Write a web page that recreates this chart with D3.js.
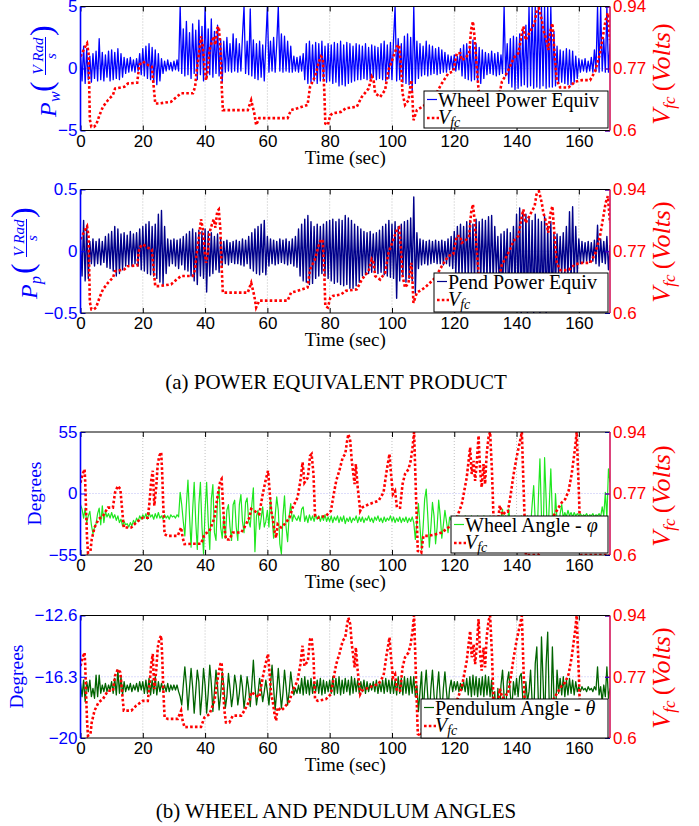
<!DOCTYPE html>
<html>
<head>
<meta charset="utf-8">
<script src="https://cdn.jsdelivr.net/npm/d3@7"></script>
<style>
  body { margin: 0; background: #fff; }
  svg { display: block; }
</style>
</head>
<body>
<script>
// ---- data (signals sampled every 0.5 s, 0..170 s) ----
const sampleStep = 0.5;

const wheelPower = [
  1.2,-1.0,1.8,-1.2,1.6,-0.9,1.0,-1.1,1.2,-0.8,1.4,-1.0,2.4,-0.9,1.3,-1.0,1.1,-0.7,1.4,-1.0,
  1.5,-0.9,1.3,-0.8,1.6,-0.9,1.2,-0.7,0.9,-0.4,0.8,-0.3,0.9,-0.2,0.7,-0.3,0.8,-0.2,1.2,-0.5,
  1.6,-0.6,1.8,-0.8,2.0,-0.9,1.7,-1.1,1.5,-1.3,1.2,-1.0,0.8,-0.4,0.6,-0.2,0.7,-0.1,0.5,-0.2,
  0.6,-0.1,0.7,-0.2,5,-0.4,3.2,-0.6,3.8,-0.5,2.9,-0.8,3.6,-0.4,3.1,-0.9,3.9,-0.5,3.4,-1.0,
  5,-0.8,3.2,-0.5,4.0,-0.7,3.0,-0.4,3.5,-0.6,2.4,-1.1,2.2,-0.3,2.5,-0.2,2.0,-0.3,2.8,-0.2,
  2.4,-0.3,2.0,-0.2,2.6,5,-0.4,2.2,-0.5,4.8,-0.6,2.3,-0.8,2.0,-0.9,2.2,-0.7,1.9,-1.0,2.1,
  5,-0.3,2.2,-0.2,2.5,-0.3,2.0,5,-0.2,2.8,-0.3,2.6,-0.2,2.2,-0.3,1.8,-0.3,1.0,-0.2,0.9,
  -0.3,1.0,-0.2,1.2,-0.9,2.0,-1.2,2.2,-1.1,1.9,-1.0,2.1,-1.2,2.0,-1.0,2.2,-0.9,1.8,-1.1,2.0,
  -1.0,1.9,-1.2,2.1,-1.1,2.0,-1.4,2.2,-1.3,1.9,-1.4,2.1,-1.2,2.0,-1.1,1.8,-1.0,2.0,-0.9,1.9,
  -0.9,1.8,-0.8,2.0,-0.9,1.7,-0.8,1.9,-0.7,1.8,-0.9,1.7,-0.8,2.0,-0.9,2.2,-1.0,1.9,-0.8,2.1,
  -0.9,2.3,5,-1.0,2.4,-0.9,2.0,-1.1,2.6,-1.2,2.8,-1.3,2.5,-1.9,5,-1.2,2.2,-0.8,2.0,-0.6,
  1.8,-0.5,2.2,-0.6,1.9,-0.5,1.8,-0.4,1.6,-0.5,1.7,-0.4,1.5,-0.3,1.3,-0.3,1.1,-0.1,1.0,-0.1,
  1.1,-0.2,1.0,-0.1,1.6,-0.6,1.9,-0.8,2.0,-0.9,1.8,-1.0,2.3,-0.9,2.0,-1.1,1.7,-1.2,1.5,-0.8,
  1.3,-0.5,1.2,-0.4,1.4,-0.5,1.2,-0.6,1.3,-0.5,1.1,-0.4,5,-0.6,2.0,-1.2,2.4,-1.5,2.6,-1.7,
  2.5,-1.6,2.8,-1.4,3.0,-1.3,3.5,-1.5,5,-1.4,5,-1.6,5,-1.5,5,-1.6,5,-1.4,5,-1.6,
  5,-1.5,5,-1.5,3.0,-1.4,1.8,-1.2,1.5,-1.1,1.4,-1.2,1.6,-1.3,1.5,-1.3,1.4,-1.1,1.0,-0.8,
  0.8,-0.3,0.7,-0.2,0.8,-0.3,0.6,-0.2,0.9,-0.3,1.5,-0.2,5,-0.3,5,-0.2,2.4,-0.3,5,-0.3,
  2.0
];

const pendPower = [
  0.1,-0.2,0.25,-0.24,0.2,-0.22,0.08,-0.1,0.1,-0.12,0.08,-0.1,0.1,-0.11,0.08,-0.09,0.12,-0.13,0.14,-0.14,
  0.16,-0.16,0.2,-0.2,0.18,-0.18,0.14,-0.15,0.15,-0.12,0.13,-0.11,0.16,-0.12,0.14,-0.1,0.15,-0.12,0.18,-0.15,
  0.2,-0.16,0.22,-0.18,0.24,-0.19,0.2,-0.2,0.22,-0.22,0.3,-0.25,0.33,-0.27,0.2,-0.18,0.1,-0.12,0.09,-0.1,
  0.1,-0.12,0.09,-0.14,0.1,-0.11,0.12,-0.15,0.14,-0.16,0.16,-0.2,0.18,-0.24,0.15,-0.27,0.17,-0.2,0.16,-0.22,
  0.18,-0.33,0.16,-0.2,0.15,-0.18,0.12,-0.15,0.14,-0.17,0.1,-0.12,0.08,-0.1,0.09,-0.11,0.07,-0.09,0.08,-0.1,
  0.09,-0.1,0.08,-0.11,0.1,-0.12,0.09,-0.1,0.12,-0.14,0.15,-0.16,0.18,-0.18,0.2,-0.19,0.22,-0.17,0.25,-0.19,
  0.12,-0.12,0.1,-0.1,0.09,-0.11,0.08,-0.1,0.1,-0.09,0.09,-0.1,0.1,-0.11,0.08,-0.1,0.1,-0.12,0.12,-0.13,
  0.18,-0.2,0.22,-0.24,0.26,-0.25,0.29,-0.27,0.24,-0.26,0.2,-0.22,0.22,-0.2,0.2,-0.18,0.22,-0.2,0.24,-0.22,
  0.25,-0.24,0.26,-0.26,0.24,-0.25,0.26,-0.27,0.25,-0.28,0.29,-0.27,0.27,-0.3,0.25,-0.3,0.22,-0.28,0.2,-0.25,
  0.18,-0.2,0.16,-0.19,0.15,-0.18,0.16,-0.17,0.14,-0.16,0.15,-0.18,0.17,-0.17,0.2,-0.19,0.22,-0.2,0.25,-0.21,
  0.22,-0.22,0.24,-0.38,0.2,-0.24,0.22,-0.2,0.24,-0.25,0.25,-0.22,0.27,-0.24,0.44,-0.34,0.15,-0.14,0.1,-0.11,
  0.09,-0.1,0.08,-0.11,0.09,-0.1,0.08,-0.09,0.09,-0.1,0.08,-0.1,0.09,-0.11,0.08,-0.1,0.1,-0.12,0.12,-0.14,
  0.16,-0.18,0.2,-0.2,0.22,-0.19,0.2,-0.2,0.24,-0.22,0.25,-0.2,0.22,-0.24,0.26,-0.22,0.24,-0.23,0.26,-0.24,
  0.25,-0.22,0.28,-0.23,0.29,-0.25,0.2,-0.18,0.12,-0.35,0.14,-0.4,0.16,-0.2,0.18,-0.45,0.15,-0.22,0.2,-0.3,
  0.3,-0.35,0.35,-0.5,0.32,-0.45,0.3,-0.5,0.28,-0.42,0.25,-0.5,0.3,-0.48,0.26,-0.5,0.24,-0.44,0.28,-0.5,
  0.2,-0.4,0.24,-0.45,0.15,-0.3,0.14,-0.2,0.12,-0.18,0.15,-0.2,0.2,-0.22,0.32,-0.26,0.36,-0.25,0.2,-0.18,
  0.1,-0.1,0.08,-0.09,0.07,-0.08,0.08,-0.09,0.07,-0.08,0.09,-0.1,0.21,-0.12,0.1,-0.09,0.08,-0.1,0.12,-0.15,
  0.05
];

const wheelAngle = [
  -10,-14,-22,-13,-26,-20,-16,-28,-36,-30,-27,-18,-13,-28,-11,-26,-16,-21,-18,-22,
  -17,-22,-19,-24,-20,-26,-23,-29,-25,-28,-27,-30,-26,-29,-24,-27,-22,-25,-20,-23,
  -19,-22,-18,-23,-17,-21,-19,-23,-18,-22,-17,-22,-20,-23,-19,-22,-20,-23,-19,-21,
  -20,-22,-19,-21,1,-10,-25,-38,-10,12,-20,-48,-15,10,-25,-50,-10,10,-30,-54,
  -15,10,-25,-50,-5,8,-35,-42,-5,5,-30,-40,-20,-40,-15,-10,-30,-42,-10,-6,
  -30,-42,-10,-1,-25,-35,-8,-4,-25,-30,-10,5,-52,-20,-15,-32,-22,-12,-30,-25,
  -15,-30,-4,-20,-40,-20,-3,-15,-45,-54,-20,-2,-30,-43,-20,-9,-25,-19,-22,-24,
  -20,-25,-14,-12,-25,-20,-26,-19,-24,-20,-25,-19,-23,-20,-25,-20,-24,-19,-25,-21,
  -25,-20,-26,-21,-24,-20,-26,-21,-25,-20,-27,-22,-25,-21,-26,-22,-24,-20,-26,-21,
  -25,-21,-26,-22,-24,-20,-25,-22,-26,-21,-24,-20,-25,-22,-26,-21,-25,-22,-24,-20,
  -25,-21,-26,-22,-25,-21,-26,-22,-25,-21,-26,-22,-25,-21,-26,-41,-25,-9,-30,-50,
  -30,-5,4,-20,-48,-30,-8,-20,-45,-30,-6,-20,-40,-28,-15,-25,-35,-21,-24,-21,
  -23,-21,-22,-20,-23,-21,-24,-20,-23,-21,-24,-20,-23,-21,-24,-20,-23,-21,-24,-20,
  -23,-21,-30,-20,-35,-22,-28,-40,-25,-30,-21,-14,-35,-20,-30,-14,-28,-22,-25,-20,
  -24,-21,-25,-20,-28,-22,-35,-20,-40,-30,-10,7,-25,-50,-5,31,-20,-50,32,-5,
  -45,-10,22,-20,-45,0,-25,-35,-18,-10,-22,-17,-21,-15,-20,-17,-21,-17,-20,-18,
  -20,-18,-21,-19,-20,-18,-21,-19,-20,-18,-21,-19,-20,-18,-21,-12,-20,1,-22,22,
  10
];

const pendAngle = [
  -16.7,-17.5,-16.5,-17.8,-16.6,-17.2,-16.5,-17.5,-17.0,-17.6,-16.2,-17.5,-16.2,-17.3,-16.8,-17.2,-16.7,-17.2,-16.8,-17.1,
  -16.6,-17.3,-16.4,-17.4,-15.9,-17.3,-16.3,-17.4,-16.6,-17.2,-16.8,-17.1,-16.7,-17.2,-16.8,-17.1,-16.7,-17.2,-16.6,-17.1,
  -16.6,-17.3,-16.5,-17.3,-16.4,-17.4,-16.5,-17.3,-16.3,-17.4,-16.6,-17.2,-16.7,-17.1,-16.8,-17.2,-16.7,-17.2,-16.8,-17.1,
  -16.8,-17.1,-16.8,-17.2,-17.5,-18.0,-16.8,-15.7,-16.8,-18.3,-17.0,-15.8,-16.9,-18.5,-17.2,-15.9,-16.6,-18.6,-17.4,-15.8,
  -16.8,-18.5,-17.3,-15.6,-16.7,-18.4,-17.2,-15.9,-16.9,-18.3,-17.4,-16.0,-16.8,-18.2,-17.5,-16.1,-17.0,-18.1,-17.4,-16.2,
  -16.8,-18.0,-17.3,-16.2,-16.9,-18.2,-17.4,-16.3,-17.0,-18.1,-16.8,-15.3,-16.9,-18.0,-17.3,-16.4,-17.0,-17.8,-17.2,-16.5,
  -17.2,-18.0,-16.8,-15.6,-17.0,-18.3,-17.2,-15.8,-17.0,-18.2,-17.3,-15.9,-16.9,-18.0,-17.2,-16.0,-16.8,-17.4,-17.0,-17.3,
  -16.8,-17.3,-16.4,-17.4,-16.3,-17.3,-16.5,-17.4,-16.4,-17.3,-16.6,-17.2,-16.5,-17.3,-16.4,-17.4,-16.5,-17.3,-16.6,-17.2,
  -16.5,-17.3,-16.3,-17.4,-16.4,-17.3,-16.3,-17.4,-16.5,-17.3,-16.4,-17.2,-16.5,-17.4,-16.3,-17.3,-16.4,-17.2,-16.5,-17.3,
  -16.6,-17.2,-16.5,-17.3,-16.6,-17.2,-16.7,-17.1,-16.6,-17.2,-16.5,-17.3,-16.6,-17.2,-16.5,-17.3,-16.4,-17.2,-16.5,-17.3,
  -16.4,-17.3,-16.5,-17.4,-16.3,-17.3,-16.4,-17.4,-16.3,-17.3,-16.4,-17.4,-16.3,-17.3,-16.3,-17.5,-16.8,-18.4,-17.2,-16.0,
  -18.6,-17.0,-15.9,-17.5,-18.8,-17.0,-15.9,-17.4,-18.7,-17.1,-16.0,-17.6,-18.6,-17.0,-16.0,-17.2,-18.2,-17.0,-16.5,-17.2,
  -16.6,-17.1,-16.6,-17.2,-16.7,-17.1,-16.6,-17.2,-16.4,-17.4,-16.3,-17.5,-16.2,-17.4,-16.3,-17.5,-16.4,-17.4,-16.3,-17.5,
  -16.2,-17.4,-16.3,-17.5,-16.5,-18.5,-17.2,-19.5,-17.0,-18.8,-16.8,-15.9,-17.5,-18.6,-16.6,-16.0,-17.4,-18.2,-16.6,-17.4,
  -16.4,-17.5,-16.3,-16.1,-17.6,-18.0,-16.6,-17.8,-17.2,-15.9,-17.8,-19.0,-15.5,-14.5,-17.8,-19.2,-13.9,-16.5,-19.3,-15.5,
  -13.6,-18.0,-19.0,-14.5,-17.5,-18.8,-15.9,-17.3,-16.4,-17.4,-16.3,-17.5,-16.5,-17.4,-16.4,-17.3,-16.5,-17.4,-16.6,-17.2,
  -16.9,-17.2,-16.9,-17.1,-17.0,-17.2,-16.9,-17.1,-17.0,-17.2,-16.9,-17.1,-15.7,-17.4,-16.9,-17.8,-16.8,-17.5,-15.7,-17.6,
  -17.0
];

// fuel-cell voltage, experiment (a)
const vfcTimeA = [0,1.8,2.1,2.6,3.0,3.5,4.3,5.0,6.1,7.2,8.8,9.8,10.4,11.1,14.1,15.2,18.2,18.9,20,21.6,22.9,23.5,24,25.3,29.1,30.7,32.3,36.1,36.8,37.2,38.2,38.7,39.3,39.8,40.3,40.9,41.4,42.2,42.8,43.3,43.9,44.4,44.9,45.3,45.7,53.7,54.8,55.3,55.8,56.4,57.4,66.5,67.6,69.7,72.9,73.7,75.3,76.4,77.2,77.8,78.3,78.6,79.4,80.2,81,83.6,85.2,88.7,90.3,92.5,93.5,94.1,94.6,96.2,97.8,98.9,99.9,101.6,102.3,102.9,103.4,104.2,105.3,106.2,106.6,106.9,108,110.6,113.9,116,118.1,119.7,120.8,121.9,122.4,123.5,124.8,125.4,126,126.5,127.2,127.8,128.3,129,131,133,134.5,135.3,136.3,137.9,139,140.6,141.7,142.2,142.9,143.8,144.9,145.8,146.5,147.2,148.1,148.6,149.4,150.2,150.8,151.5,152.4,152.9,154,156.7,158.8,161,163.6,165.2,166.8,167.9,168.6,169.3,170];
const vfcA = [0.803,0.835,0.839,0.81,0.63,0.61,0.61,0.615,0.642,0.665,0.683,0.692,0.697,0.715,0.72,0.729,0.731,0.78,0.789,0.78,0.775,0.72,0.674,0.674,0.679,0.691,0.702,0.702,0.72,0.757,0.821,0.858,0.83,0.775,0.738,0.766,0.821,0.844,0.858,0.835,0.88,0.885,0.83,0.729,0.656,0.656,0.683,0.665,0.647,0.615,0.634,0.634,0.656,0.661,0.67,0.72,0.748,0.784,0.803,0.798,0.702,0.619,0.615,0.642,0.647,0.651,0.661,0.665,0.692,0.715,0.748,0.738,0.702,0.692,0.711,0.766,0.789,0.83,0.835,0.775,0.702,0.67,0.683,0.738,0.683,0.628,0.656,0.67,0.697,0.729,0.757,0.762,0.812,0.812,0.793,0.798,0.812,0.876,0.899,0.858,0.775,0.711,0.674,0.64,0.63,0.66,0.7,0.734,0.748,0.775,0.798,0.812,0.867,0.885,0.848,0.862,0.88,0.894,0.931,0.935,0.903,0.876,0.853,0.821,0.871,0.894,0.789,0.738,0.718,0.718,0.734,0.738,0.738,0.762,0.812,0.867,0.903,0.922,0.848];

// fuel-cell voltage, experiment (b)
const vfcTimeB = [0,0.7,1.3,1.5,1.8,2.1,2.4,3.2,3.6,4.5,5.8,7.2,8.8,10.4,11.1,12,12.8,13.4,13.9,16.3,17.9,20,21.6,22.1,22.7,23.2,23.7,24.3,24.8,25.3,25.9,26.2,26.6,27,28,31.2,32.3,32.8,33.4,35.5,38.7,39.8,41.4,43,44.1,44.9,45.3,45.7,46.2,46.7,47.8,48.9,51.6,52.6,54.2,54.8,55.8,57.4,58.5,59.4,60.2,60.4,61.2,61.7,62.3,62.8,63.3,64.4,65.5,67.1,68.1,69.7,70.6,71.3,71.9,73,73.7,74.2,74.8,75.3,76.2,78.8,80.4,81.3,82.1,83.1,84.2,85,85.5,86,86.6,87.1,88,88.4,89,89.8,90.3,92.5,95.7,97.3,98.3,99.2,99.7,100.3,101,101.6,102.6,103.4,104.2,105.3,106,106.6,107.1,107.7,108.3,109.4,110.1,111.7,113.9,116,118.1,119.7,120.8,122.4,124,124.6,125.1,125.6,126.2,126.7,127.2,127.8,128.3,128.8,129.4,129.9,130.4,131,131.5,132.1,132.6,133.2,134,134.6,135.5,136.5,137.2,138,139,140,141,141.7,142.2,143,147,148.5,150,152,154.5,155.6,156.7,157.7,158.8,159.3,160.1,160.6,170];
const vfcB = [0.8,0.824,0.837,0.805,0.722,0.648,0.606,0.611,0.643,0.676,0.699,0.708,0.731,0.731,0.773,0.791,0.782,0.722,0.676,0.676,0.69,0.703,0.703,0.74,0.805,0.833,0.736,0.787,0.851,0.874,0.884,0.833,0.731,0.657,0.653,0.653,0.676,0.648,0.63,0.631,0.631,0.657,0.666,0.703,0.768,0.805,0.81,0.75,0.676,0.643,0.643,0.662,0.662,0.676,0.703,0.727,0.722,0.713,0.768,0.805,0.833,0.814,0.722,0.703,0.666,0.648,0.685,0.676,0.685,0.703,0.731,0.759,0.805,0.856,0.8,0.814,0.874,0.879,0.824,0.708,0.703,0.708,0.722,0.768,0.805,0.833,0.87,0.879,0.91,0.934,0.916,0.86,0.796,0.851,0.787,0.722,0.731,0.74,0.75,0.773,0.833,0.879,0.824,0.768,0.777,0.731,0.731,0.796,0.824,0.837,0.86,0.897,0.94,0.768,0.611,0.606,0.653,0.653,0.657,0.662,0.676,0.685,0.703,0.74,0.814,0.86,0.897,0.824,0.86,0.805,0.851,0.93,0.833,0.787,0.851,0.796,0.879,0.925,0.94,0.833,0.703,0.66,0.69,0.737,0.71,0.72,0.72,0.76,0.82,0.87,0.91,0.94,0.8,0.6,0.6,0.62,0.66,0.71,0.745,0.754,0.777,0.824,0.897,0.94,0.75,0.6,0.6];

// ticks
const timeTicks = [0, 20, 40, 60, 80, 100, 120, 140, 160];
const vfcTicks = [0.6, 0.77, 0.94];
const vfcTickLabels = ['0.6', '0.77', '0.94'];
const ticksP1 = [-5, 0, 5];
const labelsP1 = ['\u22125', '0', '5'];
const ticksP2 = [-0.5, 0, 0.5];
const labelsP2 = ['\u22120.5', '0', '0.5'];
const ticksP3 = [-55, 0, 55];
const labelsP3 = ['\u221255', '0', '55'];
const ticksP4 = [-20, -16.3, -12.6];
const labelsP4 = ['\u221220', '\u221216.3', '\u221212.6'];

// ---- layout ----
const W = 699, H = 826;
const xLeft = 80.5, xRight = 610;
const sans = 'Liberation Sans, Arial, sans-serif';
const serif = 'Liberation Serif, Times New Roman, serif';
const blue = '#0000ff';
const red = '#ff0000';

const svg = d3.select('body').append('svg')
    .attr('width', W)
    .attr('height', H);

svg.append('rect').attr('width', W).attr('height', H).attr('fill', '#fff');

const x = d3.scaleLinear().domain([0, 170]).range([xLeft, xRight]);

const panels = [
  { top: 6.5, bottom: 130.5, domain: [-5, 5], ticks: ticksP1, labels: labelsP1,
    series: wheelPower, color: '#0000ff', lw: 1.3, vt: vfcTimeA, vv: vfcA,
    legend: [424, 91, 184, 37], name: 'Wheel Power Equiv', sym: null,
    title: { kind: 'power', sub: 'w', x: 56, y: 68 }, vTitleY: 74 },
  { top: 189.5, bottom: 313, domain: [-0.5, 0.5], ticks: ticksP2, labels: labelsP2,
    series: pendPower, color: '#00008b', lw: 1.4, vt: vfcTimeA, vv: vfcA,
    legend: [434, 273, 174, 39], name: 'Pend Power Equiv', sym: null,
    title: { kind: 'power', sub: 'p', x: 37, y: 250 }, vTitleY: 252 },
  { top: 432, bottom: 555, domain: [-55, 55], ticks: ticksP3, labels: labelsP3,
    series: wheelAngle, color: '#1ee61e', lw: 1.2, vt: vfcTimeB, vv: vfcB,
    legend: [451, 516, 157, 37], name: 'Wheel Angle - ', sym: '\u03c6',
    title: { kind: 'deg', x: 41, y: 493.5 }, vTitleY: 496 },
  { top: 615.5, bottom: 738, domain: [-20, -12.6], ticks: ticksP4, labels: labelsP4,
    series: pendAngle, color: '#006400', lw: 1.3, vt: vfcTimeB, vv: vfcB,
    legend: [421, 699, 187, 39], name: 'Pendulum Angle - ', sym: '\u03b8',
    title: { kind: 'deg', x: 23, y: 676.5 }, vTitleY: 678 }
];

const drawPanel = (p, idx) => {
  const y = d3.scaleLinear().domain(p.domain).range([p.bottom, p.top]);
  const v = d3.scaleLinear().domain([0.6, 0.94]).range([p.bottom, p.top]);
  const g = svg.append('g');

  const clipId = 'clip' + idx;
  svg.append('clipPath').attr('id', clipId)
    .append('rect')
      .attr('x', xLeft).attr('y', p.top)
      .attr('width', xRight - xLeft).attr('height', p.bottom - p.top);

  // grid
  g.append('g').selectAll('line')
    .data(timeTicks.slice(1))
    .join('line')
      .attr('x1', d => x(d)).attr('x2', d => x(d))
      .attr('y1', p.top).attr('y2', p.bottom)
      .attr('stroke', '#b0b0b0').attr('stroke-width', 0.8)
      .attr('stroke-dasharray', '1,2');
  g.append('line')
    .attr('x1', xLeft).attr('x2', xRight)
    .attr('y1', y(p.ticks[1])).attr('y2', y(p.ticks[1]))
    .attr('stroke', '#a9a9f5').attr('stroke-width', 0.8)
    .attr('stroke-dasharray', '1,2');

  // signal
  const line = d3.line()
    .x((d, i) => x(i * sampleStep))
    .y(d => y(d));
  g.append('path')
    .datum(p.series)
    .attr('clip-path', `url(#${clipId})`)
    .attr('d', line)
    .attr('fill', 'none')
    .attr('stroke', p.color)
    .attr('stroke-width', p.lw)
    .attr('stroke-linejoin', 'round');

  // fuel cell voltage (right axis)
  const vLine = d3.line()
    .x(d => x(d[0]))
    .y(d => v(d[1]));
  g.append('path')
    .datum(d3.zip(p.vt, p.vv))
    .attr('clip-path', `url(#${clipId})`)
    .attr('d', vLine)
    .attr('fill', 'none')
    .attr('stroke', red)
    .attr('stroke-width', 2.6)
    .attr('stroke-dasharray', '2.6,2.2');

  // axes
  g.append('g')
    .attr('transform', `translate(0,${p.bottom})`)
    .attr('color', '#000')
    .call(d3.axisBottom(x).tickValues(timeTicks).tickSizeInner(-5).tickSizeOuter(0).tickPadding(4))
    .call(a => a.select('.domain').remove())
    .call(a => a.selectAll('text').attr('font-family', sans).attr('font-size', 17));

  g.append('g')
    .attr('transform', `translate(0,${p.top})`)
    .attr('color', '#000')
    .call(d3.axisTop(x).tickValues(timeTicks).tickSizeInner(-5).tickSizeOuter(0).tickFormat(''))
    .call(a => a.select('.domain').remove());

  g.append('g')
    .attr('transform', `translate(${xRight},0)`)
    .attr('color', red)
    .call(d3.axisRight(v).tickValues(vfcTicks).tickSizeInner(-5).tickSizeOuter(0).tickPadding(3)
      .tickFormat((d, i) => vfcTickLabels[i]))
    .call(a => a.select('.domain').remove())
    .call(a => a.selectAll('text').attr('font-family', sans).attr('font-size', 17));

  g.append('g')
    .attr('transform', `translate(${xLeft},0)`)
    .attr('color', blue)
    .call(d3.axisLeft(y).tickValues(p.ticks).tickSizeInner(-5).tickSizeOuter(0).tickPadding(3)
      .tickFormat((d, i) => p.labels[i]))
    .call(a => a.select('.domain').remove())
    .call(a => a.selectAll('text').attr('font-family', sans).attr('font-size', 17));

  g.append('g')
    .attr('transform', `translate(${xRight},0)`)
    .attr('color', blue)
    .call(d3.axisRight(y).tickValues(p.ticks).tickSizeInner(-5).tickSizeOuter(0).tickFormat(''))
    .call(a => a.select('.domain').remove());

  // spines
  const spine = (x1, y1, x2, y2, c, w) => g.append('line')
    .attr('x1', x1).attr('y1', y1).attr('x2', x2).attr('y2', y2)
    .attr('stroke', c).attr('stroke-width', w);
  spine(xLeft, p.top, xRight, p.top, '#000', 1);
  spine(xLeft, p.bottom, xRight, p.bottom, '#000', 1.2);
  spine(xLeft, p.top, xLeft, p.bottom, blue, 1.6);
  spine(xRight, p.top, xRight, p.bottom, '#d4145a', 1.6);

  // x label
  svg.append('text')
    .attr('x', (xLeft + xRight) / 2)
    .attr('y', p.bottom + 33)
    .attr('text-anchor', 'middle')
    .attr('font-family', serif)
    .attr('font-size', 19)
    .text('Time (sec)');

  // left title
  if (p.title.kind === 'power') {
    const t = svg.append('g')
      .attr('transform', `translate(${p.title.x},${p.title.y}) rotate(-90)`)
      .attr('fill', blue)
      .attr('font-family', serif);
    t.append('text').attr('x', -49).attr('y', 0)
      .attr('font-size', 24).attr('font-style', 'italic').text('P');
    t.append('text').attr('x', -34).attr('y', 4)
      .attr('font-size', 16).attr('font-style', 'italic').text(p.title.sub);
    t.append('text').attr('x', -24).attr('y', -4)
      .attr('font-size', 32).text('(');
    t.append('text').attr('x', 12).attr('y', -13).attr('text-anchor', 'middle')
      .attr('font-size', 15).attr('font-style', 'italic').text('V Rad');
    t.append('line').attr('x1', -7).attr('x2', 31).attr('y1', -10.5).attr('y2', -10.5)
      .attr('stroke', blue).attr('stroke-width', 1);
    t.append('text').attr('x', 12).attr('y', 0).attr('text-anchor', 'middle')
      .attr('font-size', 15).attr('font-style', 'italic').text('s');
    t.append('text').attr('x', 32).attr('y', -4)
      .attr('font-size', 32).text(')');
  } else {
    svg.append('text')
      .attr('transform', `translate(${p.title.x},${p.title.y}) rotate(-90)`)
      .attr('text-anchor', 'middle')
      .attr('fill', blue)
      .attr('font-family', serif)
      .attr('font-size', 19.5)
      .text('Degrees');
  }

  // right title
  const rt = svg.append('text')
    .attr('transform', `translate(670,${p.vTitleY}) rotate(-90)`)
    .attr('text-anchor', 'middle')
    .attr('fill', red)
    .attr('font-family', serif)
    .attr('font-size', 26);
  rt.append('tspan').attr('font-style', 'italic').text('V');
  rt.append('tspan').attr('font-style', 'italic').attr('font-size', 17).attr('dy', 5).text('fc');
  rt.append('tspan').attr('dy', -5).text('\u2009(');
  rt.append('tspan').attr('font-style', 'italic').text('Volts');
  rt.append('tspan').text(')');

  // legend
  const [lx, ly, lw, lh] = p.legend;
  const lg = svg.append('g').attr('transform', `translate(${lx},${ly})`);
  lg.append('rect')
    .attr('width', lw).attr('height', lh)
    .attr('fill', '#fff').attr('stroke', '#000').attr('stroke-width', 1);
  lg.append('line')
    .attr('x1', 3).attr('x2', 13).attr('y1', 8.5).attr('y2', 8.5)
    .attr('stroke', p.color).attr('stroke-width', 1.2);
  const lt = lg.append('text')
    .attr('x', 14).attr('y', 15.5)
    .attr('font-family', serif).attr('font-size', 20);
  lt.append('tspan').text(p.name);
  if (p.sym) lt.append('tspan').attr('font-style', 'italic').text(p.sym);
  lg.append('line')
    .attr('x1', 3).attr('x2', 15).attr('y1', 27).attr('y2', 27)
    .attr('stroke', red).attr('stroke-width', 2.6).attr('stroke-dasharray', '2.6,2.2');
  const lv = lg.append('text')
    .attr('x', 14).attr('y', 33)
    .attr('font-family', serif).attr('font-size', 20).attr('font-style', 'italic');
  lv.append('tspan').text('V');
  lv.append('tspan').attr('font-size', 14).attr('dy', 3).text('fc');
};

panels.forEach((p, i) => drawPanel(p, i));

// captions
svg.append('text')
  .attr('x', 336).attr('y', 389)
  .attr('text-anchor', 'middle')
  .attr('font-family', serif).attr('font-size', 21)
  .text('(a) POWER EQUIVALENT PRODUCT');

svg.append('text')
  .attr('x', 336).attr('y', 818)
  .attr('text-anchor', 'middle')
  .attr('font-family', serif).attr('font-size', 21)
  .text('(b) WHEEL AND PENDULUM ANGLES');
</script>
</body>
</html>
